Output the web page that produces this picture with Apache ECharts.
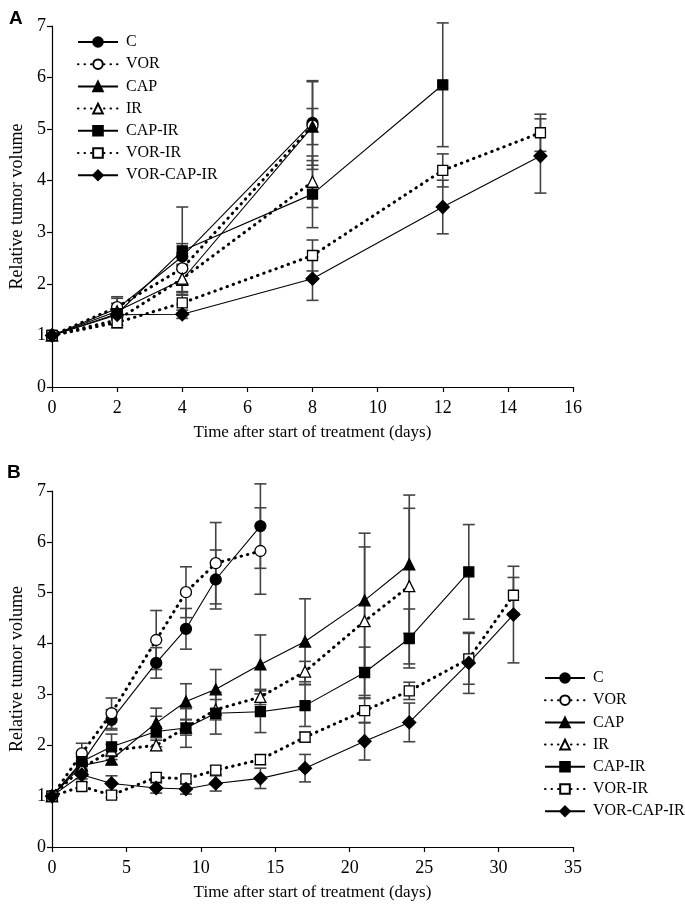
<!DOCTYPE html>
<html>
<head>
<meta charset="utf-8">
<script src="https://cdn.jsdelivr.net/npm/echarts@6/dist/echarts.min.js"></script>
<style>
html,body{margin:0;padding:0;background:#fff;}
#main{width:685px;height:904px;}
</style>
</head>
<body>
<div id="main"></div>
<script>
// ---------- DATA ----------
var seriesNames = ['C', 'VOR', 'CAP', 'IR', 'CAP-IR', 'VOR-IR', 'VOR-CAP-IR'];

// Panel A
var daysA = [0, 2, 4, 8, 12, 15];
var A_C      = [1, 1.52, 2.53, 5.12];
var A_VOR    = [1, 1.55, 2.30, 5.07];
var A_CAP    = [1, 1.47, 2.08, 5.05];
var A_IR     = [1, 1.30, 2.10, 3.98];
var A_CAPIR  = [1, 1.42, 2.64, 3.74, 5.86];
var A_VORIR  = [1, 1.25, 1.63, 2.55, 4.20, 4.93];
var A_VCI    = [1, 1.40, 1.41, 2.10, 3.49, 4.48];
var A_C_err     = [0, 0.20, 0.25, 0.82];
var A_VOR_err   = [0, 0.20, 0.30, 0.85];
var A_CAP_err   = [0, 0.15, 0.30, 0.35];
var A_IR_err    = [0, 0.15, 0.25, 0.50];
var A_CAPIR_err = [0, 0.20, 0.85, 0.65, 1.20];
var A_VORIR_err = [0, 0.10, 0.20, 0.30, 0.32, 0.36];
var A_VCI_err   = [0, 0.10, 0.08, 0.42, 0.52, 0.72];

// Panel B
var daysB = [0, 2, 4, 7, 9, 11, 14, 17, 21, 24, 28, 31];
var B_C      = [1, 1.65, 2.50, 3.62, 4.29, 5.26, 6.31];
var B_VOR    = [1, 1.84, 2.63, 4.07, 5.01, 5.58, 5.82];
var B_CAP    = [1, 1.60, 1.72, 2.44, 2.86, 3.10, 3.59, 4.04, 4.85, 5.56];
var B_IR     = [1, 1.55, 1.90, 2.00, 2.35, 2.70, 2.95, 3.45, 4.44, 5.13];
var B_CAPIR  = [1, 1.68, 1.97, 2.27, 2.34, 2.63, 2.66, 2.78, 3.43, 4.10, 5.41];
var B_VORIR  = [1, 1.19, 1.02, 1.37, 1.34, 1.51, 1.72, 2.16, 2.68, 3.07, 3.70, 4.95];
var B_VCI    = [1, 1.42, 1.25, 1.16, 1.14, 1.25, 1.35, 1.55, 2.08, 2.45, 3.62, 4.57];
var B_C_err     = [0, 0.12, 0.20, 0.30, 0.40, 0.58, 0.83];
var B_VOR_err   = [0, 0.20, 0.30, 0.58, 0.50, 0.80, 0.85];
var B_CAP_err   = [0, 0.10, 0.10, 0.29, 0.35, 0.39, 0.58, 0.84, 1.32, 1.36];
var B_IR_err    = [0, 0.10, 0.12, 0.10, 0.15, 0.20, 0.15, 0.20, 1.46, 1.53];
var B_CAPIR_err = [0, 0.10, 0.25, 0.30, 0.38, 0.41, 0.41, 0.41, 0.50, 0.58, 0.93];
var B_VORIR_err = [0, 0.08, 0.05, 0.08, 0.06, 0.08, 0.10, 0.10, 0.24, 0.17, 0.50, 0.35];
var B_VCI_err   = [0, 0.08, 0.15, 0.10, 0.10, 0.15, 0.20, 0.27, 0.37, 0.38, 0.60, 0.95];

var yTicks = [0, 1, 2, 3, 4, 5, 6, 7];

// ---------- STYLES ----------
var FONT = 'Liberation Serif';
var styleMap = {
  'C':          {symbol: 'circle',   size: 11, fill: '#000', dotted: false},
  'VOR':        {symbol: 'circle',   size: 11, fill: '#fff', dotted: true},
  'CAP':        {symbol: 'triangle', size: 11, fill: '#000', dotted: false},
  'IR':         {symbol: 'triangle', size: 11, fill: '#fff', dotted: true},
  'CAP-IR':     {symbol: 'rect',     size: 10, fill: '#000', dotted: false},
  'VOR-IR':     {symbol: 'rect',     size: 10, fill: '#fff', dotted: true},
  'VOR-CAP-IR': {symbol: 'diamond',  size: 13, fill: '#000', dotted: false}
};

function pairs(days, vals) {
  var out = [];
  for (var i = 0; i < vals.length; i++) if (vals[i] != null) out.push([days[i], vals[i]]);
  return out;
}
function errTriples(days, vals, errs) {
  var out = [];
  for (var i = 0; i < vals.length; i++) {
    if (vals[i] != null && errs[i] > 0) out.push([days[i], vals[i] - errs[i], vals[i] + errs[i]]);
  }
  return out;
}

function lineSeries(name, days, vals, idx) {
  var s = styleMap[name];
  return {
    name: name,
    type: 'line',
    xAxisIndex: idx, yAxisIndex: idx,
    data: pairs(days, vals),
    symbol: s.symbol,
    symbolSize: s.size,
    showAllSymbol: true,
    animation: false,
    z: 5,
    lineStyle: s.dotted ? {color: '#000', width: 3, type: [0.5, 6], cap: 'round'}
                        : {color: '#000', width: 1.1, type: 'solid'},
    itemStyle: {color: s.fill, borderColor: '#000', borderWidth: 1.3},
    emphasis: {disabled: true}
  };
}

function errSeries(name, days, vals, errs, idx) {
  return {
    name: name + ' err',
    type: 'custom',
    xAxisIndex: idx, yAxisIndex: idx,
    data: errTriples(days, vals, errs),
    encode: {x: 0, y: [1, 2]},
    animation: false,
    z: 3,
    silent: true,
    renderItem: function (params, api) {
      var x = api.value(0);
      var lo = api.coord([x, api.value(1)]);
      var hi = api.coord([x, api.value(2)]);
      var w = 6;
      var st = {stroke: '#444', lineWidth: 1.6, fill: null};
      return {
        type: 'group',
        children: [
          {type: 'line', shape: {x1: lo[0], y1: lo[1], x2: hi[0], y2: hi[1]}, style: st},
          {type: 'line', shape: {x1: lo[0] - w, y1: lo[1], x2: lo[0] + w, y2: lo[1]}, style: st},
          {type: 'line', shape: {x1: hi[0] - w, y1: hi[1], x2: hi[0] + w, y2: hi[1]}, style: st}
        ]
      };
    }
  };
}

var panelA = [A_C, A_VOR, A_CAP, A_IR, A_CAPIR, A_VORIR, A_VCI];
var panelAErr = [A_C_err, A_VOR_err, A_CAP_err, A_IR_err, A_CAPIR_err, A_VORIR_err, A_VCI_err];
var panelB = [B_C, B_VOR, B_CAP, B_IR, B_CAPIR, B_VORIR, B_VCI];
var panelBErr = [B_C_err, B_VOR_err, B_CAP_err, B_IR_err, B_CAPIR_err, B_VORIR_err, B_VCI_err];

var series = [];
seriesNames.forEach(function (n, i) { series.push(errSeries(n, daysA, panelA[i], panelAErr[i], 0)); });
seriesNames.forEach(function (n, i) { series.push(errSeries(n, daysB, panelB[i], panelBErr[i], 1)); });
seriesNames.forEach(function (n, i) { series.push(lineSeries(n, daysA, panelA[i], 0)); });
seriesNames.forEach(function (n, i) { series.push(lineSeries(n, daysB, panelB[i], 1)); });

function xAxis(idx, max, interval) {
  return {
    type: 'value', gridIndex: idx, min: 0, max: max, interval: interval,
    name: 'Time after start of treatment (days)',
    nameLocation: 'middle', nameGap: 37,
    nameTextStyle: {fontFamily: FONT, fontSize: 17, color: '#000'},
    axisLine: {show: true, onZero: false, lineStyle: {color: '#000', width: 1.2}},
    axisTick: {show: true, length: 5, lineStyle: {color: '#000', width: 1.2}},
    axisLabel: {fontFamily: FONT, fontSize: 18, color: '#000', margin: 12},
    splitLine: {show: false}
  };
}
function yAxis(idx) {
  return {
    type: 'value', gridIndex: idx, min: yTicks[0], max: yTicks[yTicks.length - 1], interval: 1,
    name: 'Relative tumor volume',
    nameLocation: 'middle', nameGap: 26,
    nameTextStyle: {fontFamily: FONT, fontSize: 18, color: '#000'},
    axisLine: {show: true, onZero: false, lineStyle: {color: '#000', width: 1.2}},
    axisTick: {show: true, length: 5, lineStyle: {color: '#000', width: 1.2}},
    axisLabel: {fontFamily: FONT, fontSize: 18, color: '#000', margin: 6},
    splitLine: {show: false}
  };
}

function legend(left, top) {
  return {
    left: left, top: top, orient: 'vertical', padding: 0,
    data: seriesNames,
    itemWidth: 40, itemHeight: 12, itemGap: 6.2,
    selectedMode: false,
    textStyle: {fontFamily: FONT, fontSize: 16, color: '#000', padding: [0, 0, 0, 3]}
  };
}

var chart = echarts.init(document.getElementById('main'), null, {renderer: 'canvas'});
chart.setOption({
  backgroundColor: '#fff',
  animation: false,
  title: [
    {text: 'A', left: 4, top: 4, textStyle: {fontFamily: 'Liberation Sans', fontWeight: 'bold', fontSize: 19, color: '#000'}},
    {text: 'B', left: 2, top: 458, textStyle: {fontFamily: 'Liberation Sans', fontWeight: 'bold', fontSize: 19, color: '#000'}}
  ],
  legend: [legend(77, 34), legend(544, 670)],
  grid: [
    {left: 50, right: 112, top: 26, height: 361},
    {left: 50, right: 112, top: 491, height: 356}
  ],
  xAxis: [xAxis(0, 16, 2), xAxis(1, 35, 5)],
  yAxis: [yAxis(0), yAxis(1)],
  series: series
});
</script>
</body>
</html>
